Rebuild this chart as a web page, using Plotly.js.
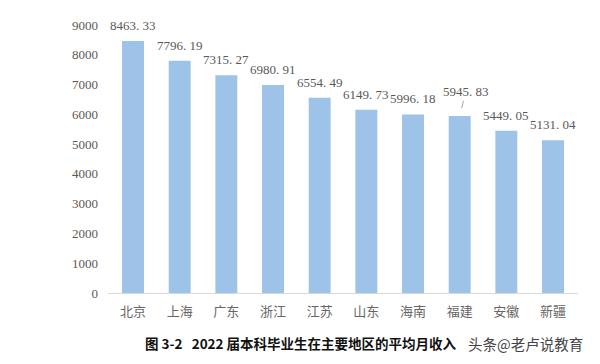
<!DOCTYPE html>
<html>
<head>
<meta charset="utf-8">
<script src="https://cdn.plot.ly/plotly-3.0.1.min.js"></script>
<style>html,body{margin:0;padding:0;background:#fff;}#chart{width:600px;height:364px;}</style>
</head>
<body>
<div id="chart"></div>
<script>
var regions = ['北京','上海','广东','浙江','江苏','山东','海南','福建','安徽','新疆'];
var income = [8463.33, 7796.19, 7315.27, 6980.91, 6554.49, 6149.73, 5996.18, 5945.83, 5449.05, 5131.04];
var yTicks = [0,1000,2000,3000,4000,5000,6000,7000,8000,9000];
var captionText = '图 3-2   2022 届本科毕业生在主要地区的平均月收入';
var watermarkText = '头条@老卢说教育';
var leaderIndex = 7; // 福建 label moved with a leader line

var labelFont = {family: 'Liberation Serif, DejaVu Serif, serif', size: 13, color: '#595959'};

var annotations = regions.map(function (r, i) {
  var txt = income[i].toFixed(2).replace('.', '. ');
  if (i === leaderIndex) {
    return {x: r, y: income[i], xref: 'x', yref: 'y', text: txt, showarrow: true,
      arrowhead: 0, arrowwidth: 0.8, arrowcolor: '#8c8c8c', ax: 6, ay: -24, standoff: 8,
      font: labelFont};
  }
  return {x: r, y: income[i], xref: 'x', yref: 'y', text: txt, showarrow: false,
    yanchor: 'bottom', yshift: 6, font: labelFont};
});

annotations.push({xref: 'paper', yref: 'paper', x: 35/470, y: -50/268, xanchor: 'left', yanchor: 'middle',
  text: '<b>' + captionText.replace(/ /g, '&nbsp;') + '</b>', showarrow: false,
  font: {family: 'Noto Sans CJK SC, sans-serif', size: 13.5, color: '#111'}});
annotations.push({xref: 'paper', yref: 'paper', x: 358/470, y: -50/268, xanchor: 'left', yanchor: 'middle',
  text: watermarkText, showarrow: false,
  font: {family: 'Noto Sans CJK SC, sans-serif', size: 14.5, color: '#444'}});

var trace = {
  type: 'bar', x: regions, y: income,
  marker: {color: '#9DC3E8'},
  hoverinfo: 'skip'
};

var layout = {
  width: 600, height: 364,
  margin: {l: 108, r: 22, t: 25, b: 71},
  paper_bgcolor: '#ffffff', plot_bgcolor: '#ffffff',
  bargap: 0.53,
  showlegend: false,
  xaxis: {
    showline: true, linecolor: '#d9d9d9', linewidth: 1,
    showgrid: false, zeroline: false, ticks: '',
    ticklabelstandoff: 6,
    tickfont: {family: 'Noto Sans CJK SC, sans-serif', size: 13, color: '#666'}
  },
  yaxis: {
    range: [0, 9000], tickvals: yTicks, ticktext: yTicks.map(String),
    showgrid: false, zeroline: false, showline: false, ticks: '',
    ticklabelstandoff: 9,
    tickfont: labelFont
  },
  annotations: annotations
};

Plotly.newPlot('chart', [trace], layout, {staticPlot: true, displayModeBar: false});
</script>
</body>
</html>
